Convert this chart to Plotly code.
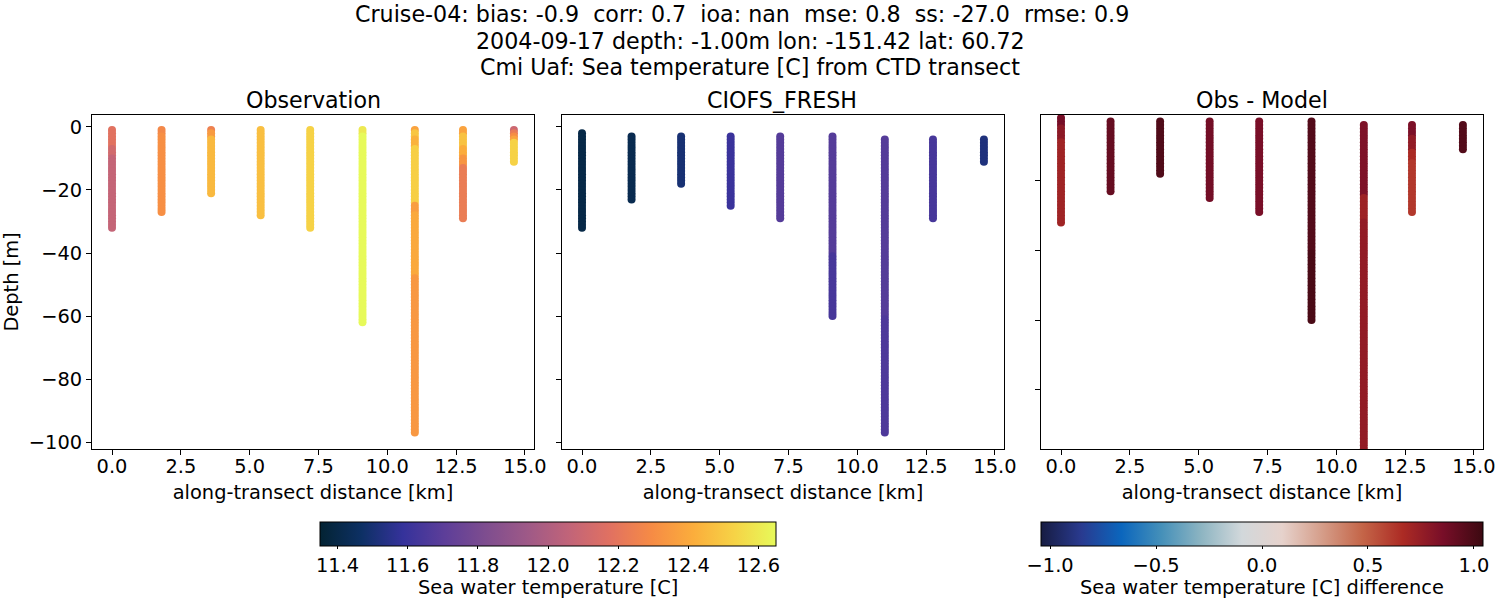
import plotly.graph_objects as go
import plotly.express as px

FONT = "DejaVu Sans"

suptitle_lines = [
    "Cruise-04: bias: -0.9  corr: 0.7  ioa: nan  mse: 0.8  ss: -27.0  rmse: 0.9",
    "2004-09-17 depth: -1.00m lon: -151.42 lat: 60.72",
    "Cmi Uaf: Sea temperature [C] from CTD transect",
]
panel_titles = ["Observation", "CIOFS_FRESH", "Obs - Model"]
colorbar_titles = ["Sea water temperature [C]", "Sea water temperature [C] difference"]
distance_km = [0.0, 1.8, 3.6, 5.4, 7.2, 9.1, 11.0, 12.75, 14.6]

# Each station: runs of (shallowest depth, deepest depth, value)
obs_runs = [
    [(-1, -6, 12.18), (-7, -9, 12.12), (-10, -32, 12.07)],
    [(-1, -2, 12.28), (-3, -27, 12.31)],
    [(-1, -1, 12.25), (-2, -3, 12.35), (-4, -21, 12.45)],
    [(-1, -28, 12.47)],
    [(-1, -32, 12.53)],
    [(-1, -2, 12.60), (-3, -62, 12.65)],
    [(-1, -1, 12.38), (-2, -3, 12.49), (-4, -6, 12.43), (-7, -24, 12.52),
     (-25, -27, 12.36), (-28, -47, 12.40), (-48, -97, 12.34)],
    [(-1, -2, 12.38), (-3, -6, 12.48), (-7, -9, 12.41), (-10, -12, 12.33), (-13, -29, 12.23)],
    [(-1, -1, 12.10), (-2, -2, 12.22), (-3, -3, 12.30), (-4, -4, 12.38), (-5, -11, 12.53)],
]
model_runs = [
    [(-2, -32, 11.40)],
    [(-3, -23, 11.42)],
    [(-3, -18, 11.50)],
    [(-3, -25, 11.60)],
    [(-3, -29, 11.68)],
    [(-3, -40, 11.68), (-41, -60, 11.64)],
    [(-4, -60, 11.68), (-61, -97, 11.66)],
    [(-4, -29, 11.64)],
    [(-4, -11, 11.52)],
]
diff_runs = [
    [(-2, -4, 0.86), (-5, -8, 0.78), (-9, -32, 0.71)],
    [(-3, -23, 0.91)],
    [(-3, -18, 0.98)],
    [(-3, -25, 0.87)],
    [(-3, -29, 0.85)],
    [(-3, -40, 0.97), (-41, -60, 1.00)],
    [(-4, -24, 0.83), (-25, -31, 0.72), (-32, -97, 0.76)],
    [(-4, -7, 0.84), (-8, -11, 0.76), (-12, -14, 0.67), (-15, -29, 0.62)],
    [(-4, -11, 0.97)],
]

temp_ticks = [11.4, 11.6, 11.8, 12.0, 12.2, 12.4, 12.6]
diff_ticks = [-1.0, -0.5, 0.0, 0.5, 1.0]
x_ticks = [0.0, 2.5, 5.0, 7.5, 10.0, 12.5, 15.0]
y_ticks = [-100, -80, -60, -40, -20, 0]
y_ticks_diff = [-80, -60, -40, -20]


def expand(runs):
    xs, ys, cs = [], [], []
    for km, station in zip(distance_km, runs):
        for top, bottom, val in station:
            for d in range(top, bottom - 1, -1):
                xs.append(km)
                ys.append(d)
                cs.append(val)
    return xs, ys, cs


W, H = 1500, 600
fig = go.Figure()
panels = [
    (obs_runs, "x", "y", "coloraxis", 92, 534, (-102.2, 3.8), y_ticks, True),
    (model_runs, "x2", "y2", "coloraxis", 562, 1004, (-102.2, 3.8), y_ticks, False),
    (diff_runs, "x3", "y3", "coloraxis2", 1041, 1483, (-97.0, -1.15), y_ticks_diff, False),
]
axis_common = dict(
    showline=True, mirror=True, linecolor="black", linewidth=1,
    ticks="outside", ticklen=5, tickwidth=1, tickcolor="black",
    showgrid=False, zeroline=False,
    tickfont=dict(family=FONT, size=19.4, color="black"),
)
layout = {}
for i, (runs, xa, ya, ca, left, right, yr, yt, show) in enumerate(panels):
    xs, ys, cs = expand(runs)
    fig.add_trace(go.Scatter(
        x=xs, y=ys, mode="markers", xaxis=xa, yaxis=ya, showlegend=False,
        marker=dict(size=8, color=cs, coloraxis=ca, line=dict(width=0)),
    ))
    sfx = "" if i == 0 else str(i + 1)
    layout["xaxis" + sfx] = dict(
        axis_common, domain=[left / W, right / W], range=[-0.727, 15.33],
        anchor="y" + sfx, tickvals=x_ticks, tickformat=".1f", ticklabelstandoff=-5,
        title=dict(text="along-transect distance [km]", standoff=8,
                   font=dict(family=FONT, size=19.4, color="black")),
    )
    ya_d = dict(
        axis_common, domain=[1 - 449 / H, 1 - 115 / H], range=list(yr),
        anchor="x" + sfx, tickvals=yt, showticklabels=show,
    )
    if show:
        ya_d["title"] = dict(text="Depth [m]", standoff=6,
                             font=dict(family=FONT, size=19.4, color="black"))
    layout["yaxis" + sfx] = ya_d


def note(txt, cx, cy, size):
    return dict(text=txt, x=cx / W, y=1 - cy / H, xref="paper", yref="paper",
                showarrow=False, xanchor="center", yanchor="middle",
                font=dict(family=FONT, size=size, color="black"))


annotations = []
for txt, cx, cy in zip(suptitle_lines, [742, 750, 750], [14, 41, 67]):
    annotations.append(note(txt, cx, cy, 22.2))
for txt, cx in zip(panel_titles, [313, 782, 1262]):
    annotations.append(note(txt, cx, 100, 22.2))
for txt, cx in zip(colorbar_titles, [548, 1262]):
    annotations.append(note(txt, cx, 587, 19.4))


def cbar(left, right, ticks, fmt):
    return dict(
        orientation="h", xref="paper", yref="paper", x=left / W, xanchor="left",
        y=1 - 522 / H, yanchor="top", lenmode="fraction", len=(right - left) / W,
        thicknessmode="pixels", thickness=24, xpad=0, ypad=0,
        outlinecolor="black", outlinewidth=1, ticks="outside", ticklen=3, tickwidth=1,
        tickcolor="black", tickvals=ticks, tickformat=fmt,
        tickfont=dict(family=FONT, size=19.4, color="black"),
    )


fig.update_layout(
    width=W, height=H, autosize=False, paper_bgcolor="white", plot_bgcolor="white",
    margin=dict(l=0, r=0, t=0, b=0, autoexpand=False), annotations=annotations,
    coloraxis=dict(colorscale=px.colors.cmocean.thermal, cmin=11.35, cmax=12.65,
                   colorbar=cbar(320, 776, temp_ticks, ".1f")),
    coloraxis2=dict(colorscale=px.colors.cmocean.balance, cmin=-1.043, cmax=1.043,
                    colorbar=cbar(1041, 1483, diff_ticks, ".1f")),
    **layout,
)
fig.write_html("out.html", config={"displayModeBar": False},
               post_script="document.body.style.margin='0';")
